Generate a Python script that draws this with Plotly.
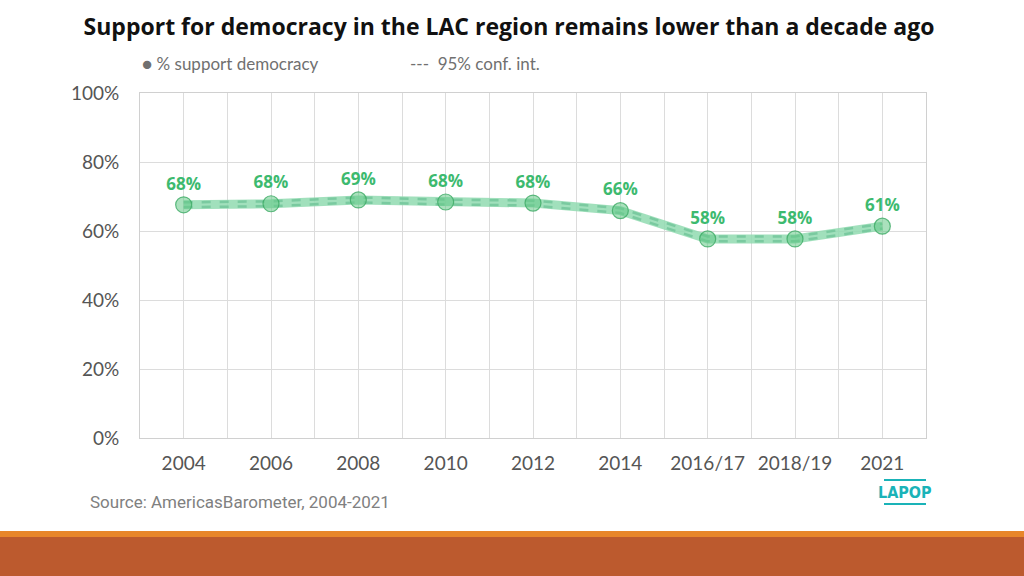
import plotly.graph_objects as go

categories = ["2004", "2006", "2008", "2010", "2012", "2014", "2016/17", "2018/19", "2021"]
support = [67.6, 67.9, 69.0, 68.4, 68.1, 65.9, 57.7, 57.7, 61.4]
labels = ["68%", "68%", "69%", "68%", "68%", "66%", "58%", "58%", "61%"]
ci_low = [66.9, 67.2, 68.3, 67.7, 67.4, 65.2, 57.0, 57.0, 60.7]
ci_high = [68.3, 68.6, 69.7, 69.1, 68.8, 66.6, 58.4, 58.4, 62.1]
y_ticks = [0, 20, 40, 60, 80, 100]
y_ticktext = ["0%", "20%", "40%", "60%", "80%", "100%"]

W, H = 1024, 576
L, R, T, B = 140, 98, 93, 138
PW, PH = W - L - R, H - T - B


def px(xp):
    return (xp - L) / PW


def py(yp):
    return (H - B - yp) / PH


x = list(range(len(categories)))
green_txt = "#3dba6f"

fig = go.Figure()
fig.add_trace(go.Scatter(x=x, y=support, mode="lines",
                         line=dict(color="rgba(145,218,176,0.85)", width=9),
                         hoverinfo="skip", showlegend=False))
for ci in (ci_low, ci_high):
    fig.add_trace(go.Scatter(x=x, y=ci, mode="lines",
                             line=dict(color="rgba(115,198,155,0.85)", width=2.5, dash="dash"),
                             hoverinfo="skip", showlegend=False))
fig.add_trace(go.Scatter(x=x, y=support, mode="markers+text",
                         marker=dict(size=16, color="rgba(100,200,135,0.55)",
                                     line=dict(color="rgba(60,170,100,0.8)", width=1.2)),
                         text=labels, textposition="top center",
                         textfont=dict(family="Open Sans", size=17, color=green_txt, weight="bold"),
                         showlegend=False))

fig.update_layout(
    width=W, height=H,
    margin=dict(l=L, r=R, t=T, b=B),
    paper_bgcolor="white", plot_bgcolor="white",
    showlegend=False,
    title=dict(text="<b>Support for democracy in the LAC region remains lower than a decade ago</b>",
               x=509 / W, xanchor="center", y=1 - 27 / H, yanchor="middle",
               font=dict(family="Open Sans", size=23, color="#111111")),
)
fig.update_xaxes(range=[-0.5, 8.5], tickmode="array", tickvals=x, ticktext=categories,
                 showgrid=True, gridcolor="#dcdcdc", gridwidth=1,
                 minor=dict(tickmode="array", tickvals=[i + 0.5 for i in range(-1, 9)],
                            showgrid=True, gridcolor="#dcdcdc", gridwidth=1),
                 showline=True, linecolor="#d0d0d0", mirror=True, zeroline=False,
                 ticks="", ticklabelstandoff=8,
                 tickfont=dict(family="Lato", size=19, color="#555555"))
fig.update_yaxes(range=[0, 100], tickmode="array", tickvals=y_ticks, ticktext=y_ticktext,
                 showgrid=True, gridcolor="#dcdcdc", gridwidth=1,
                 showline=True, linecolor="#d0d0d0", mirror=True, zeroline=False,
                 ticks="", ticklabelstandoff=16,
                 tickfont=dict(family="Lato", size=19, color="#555555"))

fig.add_annotation(x=px(140), y=py(63), xref="paper", yref="paper",
                   xanchor="left", yanchor="middle", showarrow=False,
                   text="● % support democracy",
                   font=dict(family="Lato", size=17, color="#707070"))
fig.add_annotation(x=px(408), y=py(63), xref="paper", yref="paper",
                   xanchor="left", yanchor="middle", showarrow=False,
                   text="---  95% conf. int.",
                   font=dict(family="Lato", size=17, color="#707070"))
fig.add_annotation(x=px(88), y=py(502), xref="paper", yref="paper",
                   xanchor="left", yanchor="middle", showarrow=False,
                   text="Source: AmericasBarometer, 2004-2021",
                   font=dict(family="Roboto", size=17, color="#808080"))
fig.add_annotation(x=px(905), y=py(492), xref="paper", yref="paper",
                   xanchor="center", yanchor="middle", showarrow=False,
                   text="<b>LAPOP</b>",
                   font=dict(family="DejaVu Sans Condensed", size=16, color="#1ab3b8"))
for yl in (480, 504):
    fig.add_shape(type="line", xref="paper", yref="paper",
                  x0=px(884), x1=px(926), y0=py(yl), y1=py(yl),
                  line=dict(color="#1ab3b8", width=2))
fig.add_shape(type="rect", xref="paper", yref="paper", x0=px(0), x1=px(W),
              y0=py(H), y1=py(537), fillcolor="#bc5a2e", line=dict(width=0), layer="below")
fig.add_shape(type="rect", xref="paper", yref="paper", x0=px(0), x1=px(W),
              y0=py(537), y1=py(531), fillcolor="#e8862a", line=dict(width=0), layer="below")

fig.write_html("out.html", config={"displayModeBar": False},
               post_script="document.body.style.margin='0';")
